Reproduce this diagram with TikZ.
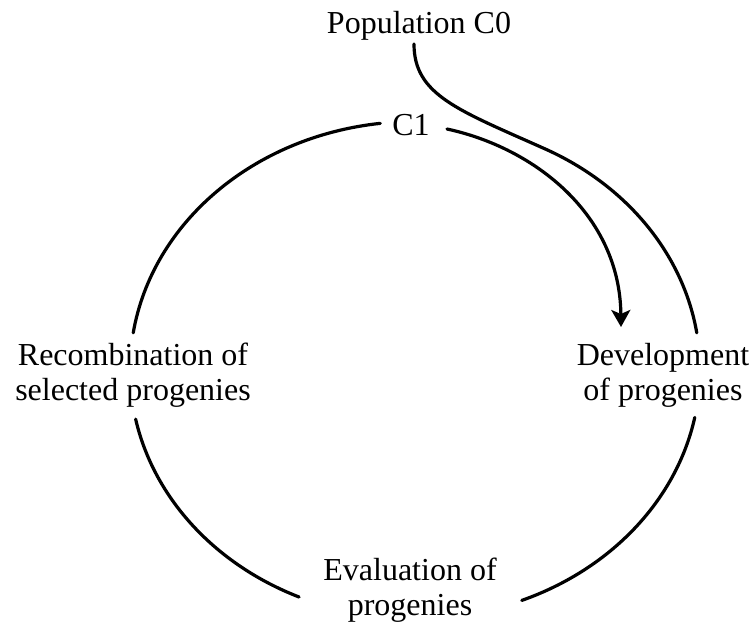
\documentclass[tikz,border=0pt]{standalone}
\usepackage{fontspec}
\setmainfont{Liberation Serif}
\usetikzlibrary{arrows.meta,calc}
\begin{document}
\begin{tikzpicture}[x=1pt,y=-1pt,
  lbl/.style={font=\fontsize{32}{35}\selectfont, align=center, inner sep=0pt, anchor=base},
  cyc/.style={line width=3.2pt, line cap=round},
  arr/.style={cyc, -{Stealth[length=17pt, width=19pt, inset=4pt]}}]
\useasboundingbox (0,0) rectangle (753,624);
% labels
\node[lbl] (pop) at (419,33) {Population C0};
\node[lbl] (c1) at (411,135) {C1};
\node[lbl] (rec) at (133,400) {Recombination of\\selected progenies};
\node[lbl] (dev) at (663,400) {Development\\of progenies};
\node[lbl] (eva) at (410,615) {Evaluation of\\progenies};
% cycle arcs (ellipse centre (415,370), radii 285 x 248.5)
\coordinate (ctr) at (415,370);
\draw[cyc] ($(ctr)+(263:285 and 248.5)$) arc[start angle=263, end angle=188.6, x radius=285, y radius=248.5];
\draw[cyc] ($(ctr)+(168.6:285 and 248.5)$) arc[start angle=168.6, end angle=114, x radius=285, y radius=248.5];
\draw[cyc] ($(ctr)+(68:285 and 248.5)$) arc[start angle=68, end angle=11, x radius=285, y radius=248.5];
% population C0 entering the cycle
\coordinate (c0s) at (414,44);
\coordinate (join) at ($(ctr)+(-62.9:285 and 248.5)$);
\draw[cyc] (c0s) .. controls (414,95) and (458,110) .. (join)
  arc[start angle=-62.9, end angle=-8.6, x radius=285, y radius=248.5];
% arrow from C1 to development
\coordinate (a0) at (447,129);
\coordinate (a1) at (621,327);
\draw[arr] (a0) .. controls (535,148) and (620,215) .. (a1);
\end{tikzpicture}
\end{document}
